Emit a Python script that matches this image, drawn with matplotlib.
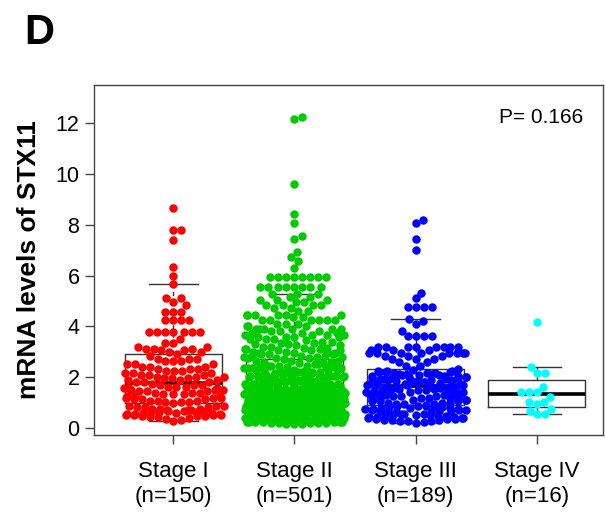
import numpy as np
import matplotlib
matplotlib.use('Agg')
from matplotlib import pyplot as plt

plt.rcParams['font.family'] = ['Liberation Sans', 'DejaVu Sans']

stages = ['Stage I', 'Stage II', 'Stage III', 'Stage IV']
n_labels = ['(n=150)', '(n=501)', '(n=189)', '(n=16)']
colors = ['#ff0000', '#00cc00', '#0000ff', '#00ffff']
p_text = 'P= 0.166'
y_ticks = [0, 2, 4, 6, 8, 10, 12]

stage1 = [(0.29,1),(0.32,1),(0.36,1),(0.40,1),(0.44,2),(0.47,3),(0.51,4),(0.55,3),(0.59,3),
          (0.63,4),(0.67,2),(0.71,3),(0.76,3),(0.82,3),(0.88,3),(0.97,1),
          (1.02,3),(1.08,3),(1.14,3),(1.20,3),(1.26,3),(1.32,3),(1.38,3),(1.44,3),(1.50,3),
          (1.56,3),(1.62,3),(1.68,3),(1.75,1),
          (1.81,3),(1.88,3),(1.95,3),(2.02,3),(2.10,3),(2.18,3),(2.26,3),(2.34,3),(2.42,3),
          (2.52,3),(2.62,3),(2.72,3),(2.82,1),(2.90,1),
          (2.98,2),(3.05,2),(3.12,3),(3.20,2),(3.33,2),(3.50,1),(3.77,7),
          (4.25,4),(4.58,3),(4.84,1),(4.97,1),(5.10,2),(5.68,1),(6.00,1),(6.35,1),(7.40,1),
          (7.78,2),(8.64,1)]

stage2 = [(0.15,3),(0.20,5),(0.25,7),(0.30,8),(0.35,9),(0.40,9),(0.45,10),(0.50,10),(0.55,10),
          (0.60,10),(0.65,10),(0.70,10),(0.75,10),(0.80,10),(0.84,4),(0.85,1),
          (0.88,9),(0.92,9),(0.96,9),(1.00,9),(1.04,9),(1.08,9),(1.12,9),(1.16,9),(1.20,9),
          (1.24,9),(1.28,9),(1.32,9),(1.36,9),(1.38,7),(1.40,1),
          (1.45,7),(1.50,7),(1.55,7),(1.60,7),(1.65,7),(1.70,6),(1.75,6),(1.80,6),(1.85,6),
          (1.90,6),(1.95,5),(2.00,5),(2.05,5),(2.10,5),(2.15,5),(2.20,5),(2.25,4),(2.30,4),
          (2.35,4),(2.40,4),(2.45,4),(2.50,2),(2.55,2),(2.60,2),(2.65,3),(2.70,1),
          (2.75,3),(2.80,3),(2.85,3),(2.90,3),(2.95,3),(3.00,3),(3.05,3),(3.10,3),(3.15,2),
          (3.20,2),(3.25,2),(3.30,2),(3.35,2),(3.40,2),(3.45,1),
          (3.52,3),(3.60,4),(3.66,4),(3.74,3),(3.82,3),(3.90,6),(4.00,3),(4.10,3),(4.25,6),
          (4.35,2),(4.45,6),(4.60,2),(4.72,2),(4.84,4),(4.95,2),(5.05,3),(5.15,2),(5.28,3),
          (5.56,8),(5.96,8),(6.31,1),(6.59,1),(6.74,1),(6.94,1),(7.43,1),(7.56,1),(8.08,1),
          (8.43,1),(9.61,1),(12.15,1),(12.23,1)]

stage3 = [(0.21,1),(0.25,1),(0.29,3),(0.33,3),(0.37,3),(0.41,3),(0.45,3),(0.49,3),(0.53,3),
          (0.57,3),(0.61,3),(0.65,3),(0.69,3),(0.73,3),(0.77,3),(0.81,3),(0.86,3),(0.90,1),
          (0.95,3),(1.00,3),(1.05,3),(1.10,3),(1.15,3),(1.20,3),(1.25,3),(1.30,3),(1.35,3),
          (1.40,3),(1.45,3),(1.50,3),(1.55,3),(1.59,4),(1.62,3),(1.64,1),
          (1.68,3),(1.72,3),(1.76,3),(1.80,3),(1.84,3),(1.88,3),(1.92,3),(1.96,3),(2.00,3),
          (2.04,3),(2.08,3),(2.12,3),(2.16,3),(2.20,3),(2.24,3),(2.28,1),(2.31,1),
          (2.45,2),(2.60,2),(2.72,3),(2.85,3),(2.94,8),(3.05,3),(3.20,8),
          (3.62,4),(3.83,1),(4.10,1),(4.20,1),(4.28,1),
          (4.78,4),(5.10,1),(5.33,1),(7.00,1),(7.43,1),(8.08,1),(8.19,1)]

stage4 = [(0.54,2),(0.68,1),(0.74,1),(0.93,1),(1.01,2),(1.23,1),(1.43,3),(1.60,1),(2.18,2),
          (2.39,1),(4.19,1)]

groups = [stage1, stage2, stage3, stage4]


def expand(pairs):
    return np.repeat([v for v, c in pairs], [c for v, c in pairs])


def fivenum(x):
    x = np.sort(x)
    n = len(x)
    n4 = np.floor((n + 3) / 2) / 2
    d = np.array([1, n4, (n + 1) / 2, n + 1 - n4, n]) - 1
    return 0.5 * (x[np.floor(d).astype(int)] + x[np.ceil(d).astype(int)])


def box_stats(x):
    _, q1, med, q3, _ = fivenum(x)
    iqr = q3 - q1
    lo = x[x >= q1 - 1.5 * iqr].min()
    hi = x[x <= q3 + 1.5 * iqr].max()
    return dict(med=med, q1=q1, q3=q3, whislo=lo, whishi=hi, fliers=[])


def swarm(yp, d):
    # beeswarm "swarm" placement, ascending priority, in pixels
    order = np.argsort(yp, kind='stable')
    px = np.zeros(len(yp))
    done = np.zeros(len(yp), bool)
    for i in order:
        near = done & (np.abs(yp - yp[i]) < d)
        if near.any():
            nx = px[near]
            dy = yp[near] - yp[i]
            s = np.argsort(np.abs(nx), kind='stable')
            nx, dy = nx[s], dy[s]
            off = np.sqrt(d * d - dy * dy)
            cand = np.concatenate([[0.0], nx + off, nx - off])
            ok = (((cand[:, None] - nx[None, :]) ** 2 + dy[None, :] ** 2) >= 0.999 * d * d).all(axis=1)
            cand = cand[ok]
            px[i] = cand[np.argmin(np.abs(cand))]
        done[i] = True
    return px


fig = plt.figure(figsize=(6.06, 5.19), dpi=100)
ax = fig.add_axes([94 / 606, 1 - 435 / 519, 509 / 606, 350 / 519])
ax.set_xlim(0.345, 4.547)
ax.set_ylim(-0.276, 13.5)

frame = '#444444'
for sp in ax.spines.values():
    sp.set_color(frame)
    sp.set_linewidth(1.0)

pos = np.arange(1, 5)
stats = [box_stats(expand(g)) for g in groups]
ax.bxp(stats, positions=pos, widths=0.8, capwidths=0.4, showfliers=False,
       boxprops=dict(color='#333333', linewidth=1.0),
       whiskerprops=dict(color='#333333', linewidth=1.0, linestyle=(0, (3, 3))),
       capprops=dict(color='#333333', linewidth=1.0),
       medianprops=dict(color='black', linewidth=2.6),
       zorder=1)

# swarm layout done in pixels, then mapped back to data units
ppu = ax.transData.transform([[1, 0]])[0, 0] - ax.transData.transform([[0, 0]])[0, 0]
corral = 0.84
for xi, g, col in zip(pos, groups, colors):
    vals = expand(g)
    yp = ax.transData.transform(np.column_stack([np.zeros_like(vals), vals]))[:, 1]
    xo = swarm(yp, 8.0) / ppu
    xo = ((xo + corral / 2) % corral) - corral / 2
    ax.scatter(xi + xo, vals, s=37, color=col, linewidths=0, zorder=3)

ax.set_xticks(pos)
ax.set_xticklabels([s + '\n' + n for s, n in zip(stages, n_labels)], fontsize=16, linespacing=1.25)
ax.set_yticks(y_ticks)
ax.set_yticklabels([str(t) for t in y_ticks], fontsize=15.5)
ax.tick_params(axis='both', direction='out', length=6.5, width=1.0, color=frame)
ax.tick_params(axis='x', pad=12)
ax.tick_params(axis='y', pad=4)

ax.set_ylabel('mRNA levels of STX11', fontsize=19, fontweight='bold')
ax.yaxis.set_label_coords(-0.104, 0.5)

ax.text(0.961, 0.906, p_text, transform=ax.transAxes, ha='right', va='center', fontsize=15)
fig.text(0.040, 0.915, 'D', fontsize=30, fontweight='bold', va='baseline', ha='left')

fig.savefig('out.png', dpi=100)
